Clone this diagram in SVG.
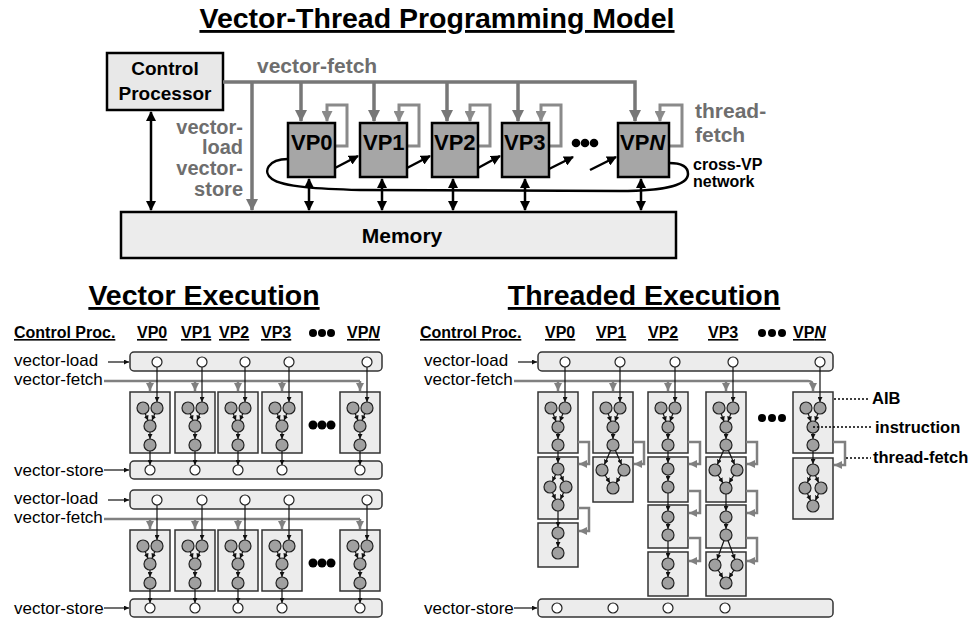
<svg xmlns="http://www.w3.org/2000/svg" xmlns:xlink="http://www.w3.org/1999/xlink" width="971" height="618" viewBox="0 0 971 618">
<style>
text{font-family:"Liberation Sans",Arial,sans-serif}
.title{font-size:28.5px;font-weight:bold;text-anchor:middle;text-decoration:underline}
.big{font-size:19px;font-weight:bold;text-anchor:middle}
.vp{font-size:22px;font-weight:bold}
.gl{font-size:21px;font-weight:bold;fill:#6e6e6e}
.gs{font-size:20px;font-weight:bold;fill:#6e6e6e;text-anchor:end}
.cv{font-size:16px;font-weight:bold}
.hd{font-size:16px;font-weight:bold;text-decoration:underline}
.lb{font-size:17px}
.an{font-size:16.5px;font-weight:bold}
.gf{fill:none;stroke:#777;stroke-width:3.5}
.tf{fill:none;stroke:#8a8a8a;stroke-width:3}
.bk{fill:none;stroke:#000;stroke-width:2.5}
.bar{fill:#ececec;stroke:#333;stroke-width:1.5}
.aib{fill:#ececec;stroke:#333;stroke-width:1.5}
.n{fill:#a0a0a0;stroke:#222;stroke-width:1.2;r:6px}
.w{fill:#fff;stroke:#222;stroke-width:1.2}
.e{stroke:#111;stroke-width:1.2;fill:none}
.sgl{stroke:#808080;stroke-width:2.5;fill:none}
.dt{stroke:#000;stroke-width:1.6;stroke-dasharray:2,2;fill:none}
</style>
<defs>
<marker id="ab" markerWidth="10" markerHeight="10" refX="9" refY="5" orient="auto-start-reverse" markerUnits="userSpaceOnUse"><path d="M0,0 L10,5 L0,10 z" fill="#000"/></marker>
<marker id="ag" markerWidth="12" markerHeight="12" refX="11" refY="6" orient="auto" markerUnits="userSpaceOnUse"><path d="M0,0 L12,6 L0,12 z" fill="#777"/></marker>
<marker id="at" markerWidth="11" markerHeight="11" refX="10" refY="5.5" orient="auto" markerUnits="userSpaceOnUse"><path d="M0,0 L11,5.5 L0,11 z" fill="#8a8a8a"/></marker>
<marker id="sb" markerWidth="5" markerHeight="5" refX="5" refY="2.5" orient="auto" markerUnits="userSpaceOnUse"><path d="M0,0 L5,2.5 L0,5 z" fill="#111"/></marker>
<marker id="sg" markerWidth="8" markerHeight="8" refX="8" refY="4" orient="auto" markerUnits="userSpaceOnUse"><path d="M0,0 L8,4 L0,8 z" fill="#808080"/></marker>
<g id="vcol">
<rect x="-20" y="0" width="40" height="61" class="aib"/>
<line x1="7" y1="-25" x2="7" y2="10" class="e" marker-end="url(#sb)"/>
<line x1="0" y1="-11" x2="0" y2="-1" class="sgl" marker-end="url(#sg)"/>
<line x1="-5" y1="21.1" x2="-2" y2="28.5" class="e" marker-end="url(#sb)"/>
<line x1="5" y1="21.1" x2="2" y2="28.5" class="e" marker-end="url(#sb)"/>
<line x1="0" y1="40" x2="0" y2="47" class="e" marker-end="url(#sb)"/>
<line x1="0" y1="59" x2="0" y2="73" class="e" marker-end="url(#sb)"/>
<circle cx="-7" cy="16" r="6" class="n"/>
<circle cx="7" cy="16" r="6" class="n"/>
<circle cx="0" cy="34" r="6" class="n"/>
<circle cx="0" cy="53" r="6" class="n"/>
<circle cx="7" cy="-30" r="5" class="w"/>
<circle cx="0" cy="78" r="5" class="w"/>
</g>
</defs>

<!-- ===== Top: Programming model ===== -->
<g id="title-top"><text x="437" y="28" class="title">Vector-Thread Programming Model</text></g>

<g id="control-processor">
<rect x="107" y="53" width="116" height="57" fill="#e8e8e8" stroke="#000" stroke-width="2.5"/>
<text x="165" y="75" class="big">Control</text>
<text x="165" y="100" class="big">Processor</text>
</g>

<g id="memory">
<rect x="121" y="212" width="555" height="46" fill="#ececec" stroke="#000" stroke-width="2.5"/>
<text x="402" y="243" class="big" style="font-size:21px">Memory</text>
</g>

<g id="connectors-top">
<path d="M223,82 H635 V121" class="gf" marker-end="url(#ag)"/>
<path d="M252,82 V210" class="gf" marker-end="url(#ag)"/>
<path d="M301,82 V121" class="gf" marker-end="url(#ag)"/>
<path d="M374,82 V121" class="gf" marker-end="url(#ag)"/>
<path d="M447,82 V121" class="gf" marker-end="url(#ag)"/>
<path d="M518,82 V121" class="gf" marker-end="url(#ag)"/>
<path d="M335,146 H347 V105 H327 V121" class="tf" marker-end="url(#at)"/>
<path d="M407,146 H419 V105 H399 V121" class="tf" marker-end="url(#at)"/>
<path d="M478,146 H490 V105 H470 V121" class="tf" marker-end="url(#at)"/>
<path d="M549,146 H561 V105 H541 V121" class="tf" marker-end="url(#at)"/>
<path d="M669,146 H682 V105 H660 V121" class="tf" marker-end="url(#at)"/>
<path d="M288,159 C268,159 262,172 272,179 C283,187 320,189 360,190 L620,191 C660,191 688,186 688,174 C688,166 680,163 669,163" class="bk"/>
<path d="M335,168 L358,156" class="bk" marker-end="url(#ab)"/>
<path d="M407,168 L430,156" class="bk" marker-end="url(#ab)"/>
<path d="M478,168 L500,156" class="bk" marker-end="url(#ab)"/>
<path d="M549,169 L573,157" class="bk" marker-end="url(#ab)"/>
<path d="M590,170 L616,157" class="bk" marker-end="url(#ab)"/>
<path d="M151,112 V210" class="bk" marker-start="url(#ab)" marker-end="url(#ab)"/>
<path d="M309,179 V210" class="bk" marker-start="url(#ab)" marker-end="url(#ab)"/>
<path d="M382,179 V210" class="bk" marker-start="url(#ab)" marker-end="url(#ab)"/>
<path d="M453,179 V210" class="bk" marker-start="url(#ab)" marker-end="url(#ab)"/>
<path d="M525,179 V210" class="bk" marker-start="url(#ab)" marker-end="url(#ab)"/>
<path d="M641,179 V210" class="bk" marker-start="url(#ab)" marker-end="url(#ab)"/>
</g>

<g id="vp0"><rect x="288" y="123" width="47" height="54" fill="#a6a6a6" stroke="#000" stroke-width="2.5"/><text x="291" y="150" class="vp">VP0</text></g>
<g id="vp1"><rect x="360" y="123" width="47" height="54" fill="#a6a6a6" stroke="#000" stroke-width="2.5"/><text x="363" y="150" class="vp">VP1</text></g>
<g id="vp2"><rect x="432" y="123" width="46" height="54" fill="#a6a6a6" stroke="#000" stroke-width="2.5"/><text x="434" y="150" class="vp">VP2</text></g>
<g id="vp3"><rect x="502" y="123" width="47" height="54" fill="#a6a6a6" stroke="#000" stroke-width="2.5"/><text x="504" y="150" class="vp">VP3</text></g>
<g id="vpn"><rect x="618" y="123" width="51" height="54" fill="#a6a6a6" stroke="#000" stroke-width="2.5"/><text x="620" y="150" class="vp">VP<tspan font-style="italic">N</tspan></text></g>
<g id="dots-top"><circle cx="576" cy="143" r="4.3"/><circle cx="585" cy="143" r="4.3"/><circle cx="594" cy="143" r="4.3"/></g>

<g id="labels-top">
<text x="257" y="73" class="gl">vector-fetch</text>
<text x="243" y="134" class="gs">vector-</text>
<text x="243" y="154" class="gs">load</text>
<text x="243" y="175" class="gs">vector-</text>
<text x="243" y="196" class="gs">store</text>
<text x="695" y="118" class="gl">thread-</text>
<text x="695" y="142" class="gl">fetch</text>
<text x="693" y="170" class="cv">cross-VP</text>
<text x="693" y="187" class="cv">network</text>
</g>

<!-- ===== Vector Execution ===== -->
<g id="title-vector"><text x="204" y="305" class="title">Vector Execution</text></g>
<g id="vector-header">
<text x="14" y="338" class="hd">Control Proc.</text>
<text x="137" y="338" class="hd">VP0</text>
<text x="181" y="338" class="hd">VP1</text>
<text x="219" y="338" class="hd">VP2</text>
<text x="261" y="338" class="hd">VP3</text>
<circle cx="313" cy="333" r="4"/><circle cx="322" cy="333" r="4"/><circle cx="331" cy="333" r="4"/>
<text x="347" y="338" class="hd">VP<tspan font-style="italic">N</tspan></text>
</g>

<g id="vector-group1">
<text x="14" y="366" class="lb">vector-load</text>
<text x="14" y="385" class="lb">vector-fetch</text>
<text x="14" y="476" class="lb">vector-store</text>
<line x1="108" y1="362" x2="129" y2="362" class="e" marker-end="url(#sb)"/>
<line x1="104" y1="470" x2="129" y2="470" class="e" marker-end="url(#sb)"/>
<rect x="130" y="352" width="252" height="19" rx="4" class="bar"/>
<rect x="130" y="461" width="252" height="18" rx="4" class="bar"/>
<path d="M104,381 H360" class="sgl"/>
<use xlink:href="#vcol" href="#vcol" x="150" y="392"/>
<use xlink:href="#vcol" href="#vcol" x="195" y="392"/>
<use xlink:href="#vcol" href="#vcol" x="238" y="392"/>
<use xlink:href="#vcol" href="#vcol" x="282" y="392"/>
<use xlink:href="#vcol" href="#vcol" x="360" y="392"/>
<circle cx="313" cy="425" r="4.5"/><circle cx="322" cy="425" r="4.5"/><circle cx="331" cy="425" r="4.5"/>
</g>

<g id="vector-group2">
<text x="14" y="504" class="lb">vector-load</text>
<text x="14" y="523" class="lb">vector-fetch</text>
<text x="14" y="614" class="lb">vector-store</text>
<line x1="108" y1="500" x2="129" y2="500" class="e" marker-end="url(#sb)"/>
<line x1="104" y1="608" x2="129" y2="608" class="e" marker-end="url(#sb)"/>
<rect x="130" y="490" width="252" height="19" rx="4" class="bar"/>
<rect x="130" y="599" width="252" height="18" rx="4" class="bar"/>
<path d="M104,519 H360" class="sgl"/>
<use xlink:href="#vcol" href="#vcol" x="150" y="530"/>
<use xlink:href="#vcol" href="#vcol" x="195" y="530"/>
<use xlink:href="#vcol" href="#vcol" x="238" y="530"/>
<use xlink:href="#vcol" href="#vcol" x="282" y="530"/>
<use xlink:href="#vcol" href="#vcol" x="360" y="530"/>
<circle cx="313" cy="563" r="4.5"/><circle cx="322" cy="563" r="4.5"/><circle cx="331" cy="563" r="4.5"/>
</g>

<!-- ===== Threaded Execution ===== -->
<g id="title-threaded"><text x="644" y="305" class="title">Threaded Execution</text></g>
<g id="threaded-header">
<text x="420" y="338" class="hd">Control Proc.</text>
<text x="545" y="338" class="hd">VP0</text>
<text x="596" y="338" class="hd">VP1</text>
<text x="648" y="338" class="hd">VP2</text>
<text x="708" y="338" class="hd">VP3</text>
<circle cx="762" cy="333" r="4"/><circle cx="772" cy="333" r="4"/><circle cx="782" cy="333" r="4"/>
<text x="793" y="338" class="hd">VP<tspan font-style="italic">N</tspan></text>
</g>

<g id="threaded-bars">
<text x="424" y="366" class="lb">vector-load</text>
<text x="424" y="385" class="lb">vector-fetch</text>
<text x="424" y="614" class="lb">vector-store</text>
<line x1="518" y1="362" x2="537" y2="362" class="e" marker-end="url(#sb)"/>
<line x1="514" y1="608" x2="537" y2="608" class="e" marker-end="url(#sb)"/>
<rect x="538" y="352" width="295" height="19" rx="4" class="bar"/>
<rect x="538" y="599" width="295" height="18" rx="4" class="bar"/>
<circle cx="565" cy="362" r="5" class="w"/><circle cx="620" cy="362" r="5" class="w"/><circle cx="675" cy="362" r="5" class="w"/><circle cx="733" cy="362" r="5" class="w"/><circle cx="820" cy="362" r="5" class="w"/>
<circle cx="557" cy="608" r="5" class="w"/><circle cx="613" cy="608" r="5" class="w"/><circle cx="668" cy="608" r="5" class="w"/><circle cx="725" cy="608" r="5" class="w"/>
</g>

<g id="threaded-fetch">
<path d="M514,381 H808 Q813,381 813,386 V391" class="sgl" marker-end="url(#sg)"/>
<line x1="558" y1="381" x2="558" y2="391" class="sgl" marker-end="url(#sg)"/>
<line x1="613" y1="381" x2="613" y2="391" class="sgl" marker-end="url(#sg)"/>
<line x1="668" y1="381" x2="668" y2="391" class="sgl" marker-end="url(#sg)"/>
<line x1="726" y1="381" x2="726" y2="391" class="sgl" marker-end="url(#sg)"/>
</g>

<g id="t-vp0">
<rect x="538" y="392" width="40" height="61" class="aib"/>
<rect x="538" y="457" width="40" height="62" class="aib"/>
<rect x="538" y="523" width="40" height="44" class="aib"/>
<line x1="565" y1="367" x2="565" y2="402" class="e" marker-end="url(#sb)"/>
<line x1="553" y1="413.1" x2="556" y2="421.5" class="e" marker-end="url(#sb)"/>
<line x1="563" y1="413.1" x2="560" y2="421.5" class="e" marker-end="url(#sb)"/>
<line x1="558" y1="433" x2="558" y2="439" class="e" marker-end="url(#sb)"/>
<line x1="558" y1="451" x2="558" y2="463" class="e" marker-end="url(#sb)"/>
<line x1="555.8" y1="474" x2="552.4" y2="481.5" class="e" marker-end="url(#sb)"/>
<line x1="560.2" y1="474" x2="563.6" y2="481.5" class="e" marker-end="url(#sb)"/>
<line x1="552.2" y1="492" x2="555.6" y2="499.5" class="e" marker-end="url(#sb)"/>
<line x1="563.8" y1="492" x2="560.4" y2="499.5" class="e" marker-end="url(#sb)"/>
<line x1="558" y1="511" x2="558" y2="527" class="e" marker-end="url(#sb)"/>
<line x1="558" y1="539" x2="558" y2="547" class="e" marker-end="url(#sb)"/>
<circle cx="551" cy="408" r="6" class="n"/><circle cx="565" cy="408" r="6" class="n"/><circle cx="558" cy="427" r="6" class="n"/><circle cx="558" cy="445" r="6" class="n"/>
<circle cx="558" cy="469" r="6" class="n"/><circle cx="550" cy="487" r="6" class="n"/><circle cx="566" cy="487" r="6" class="n"/><circle cx="558" cy="505" r="6" class="n"/>
<circle cx="558" cy="533" r="6" class="n"/><circle cx="558" cy="553" r="6" class="n"/>
<path d="M578,442 H589 V464 H579" class="sgl" marker-end="url(#sg)"/>
<path d="M578,508 H589 V531 H579" class="sgl" marker-end="url(#sg)"/>
</g>

<g id="t-vp1">
<rect x="593" y="392" width="40" height="61" class="aib"/>
<rect x="593" y="457" width="40" height="45" class="aib"/>
<line x1="620" y1="367" x2="620" y2="402" class="e" marker-end="url(#sb)"/>
<line x1="608" y1="413.1" x2="611" y2="421.5" class="e" marker-end="url(#sb)"/>
<line x1="618" y1="413.1" x2="615" y2="421.5" class="e" marker-end="url(#sb)"/>
<line x1="613" y1="433" x2="613" y2="439" class="e" marker-end="url(#sb)"/>
<line x1="610.8" y1="450" x2="604.4" y2="464.5" class="e" marker-end="url(#sb)"/>
<line x1="615.2" y1="450" x2="621.6" y2="464.5" class="e" marker-end="url(#sb)"/>
<line x1="604.9" y1="474.7" x2="609.9" y2="482.9" class="e" marker-end="url(#sb)"/>
<line x1="621.1" y1="474.7" x2="616.1" y2="482.9" class="e" marker-end="url(#sb)"/>
<circle cx="606" cy="408" r="6" class="n"/><circle cx="620" cy="408" r="6" class="n"/><circle cx="613" cy="427" r="6" class="n"/><circle cx="613" cy="445" r="6" class="n"/>
<circle cx="602" cy="470" r="6" class="n"/><circle cx="624" cy="470" r="6" class="n"/><circle cx="613" cy="488" r="6" class="n"/>
<path d="M633,442 H644 V464 H634" class="sgl" marker-end="url(#sg)"/>
</g>

<g id="t-vp2">
<rect x="648" y="392" width="40" height="61" class="aib"/>
<rect x="648" y="457" width="40" height="45" class="aib"/>
<rect x="648" y="505" width="40" height="43" class="aib"/>
<rect x="648" y="552" width="40" height="44" class="aib"/>
<line x1="675" y1="367" x2="675" y2="402" class="e" marker-end="url(#sb)"/>
<line x1="663" y1="413.1" x2="666" y2="421.5" class="e" marker-end="url(#sb)"/>
<line x1="673" y1="413.1" x2="670" y2="421.5" class="e" marker-end="url(#sb)"/>
<line x1="668" y1="433" x2="668" y2="439" class="e" marker-end="url(#sb)"/>
<line x1="668" y1="451" x2="668" y2="463" class="e" marker-end="url(#sb)"/>
<line x1="668" y1="475" x2="668" y2="481" class="e" marker-end="url(#sb)"/>
<line x1="668" y1="493" x2="668" y2="511" class="e" marker-end="url(#sb)"/>
<line x1="668" y1="523" x2="668" y2="529" class="e" marker-end="url(#sb)"/>
<line x1="668" y1="541" x2="668" y2="558" class="e" marker-end="url(#sb)"/>
<line x1="668" y1="570" x2="668" y2="577" class="e" marker-end="url(#sb)"/>
<circle cx="661" cy="408" r="6" class="n"/><circle cx="675" cy="408" r="6" class="n"/><circle cx="668" cy="427" r="6" class="n"/><circle cx="668" cy="445" r="6" class="n"/>
<circle cx="668" cy="469" r="6" class="n"/><circle cx="668" cy="487" r="6" class="n"/>
<circle cx="668" cy="517" r="6" class="n"/><circle cx="668" cy="535" r="6" class="n"/>
<circle cx="668" cy="564" r="6" class="n"/><circle cx="668" cy="583" r="6" class="n"/>
<path d="M688,442 H700 V464 H689" class="sgl" marker-end="url(#sg)"/>
<path d="M688,491 H700 V513 H689" class="sgl" marker-end="url(#sg)"/>
<path d="M688,538 H700 V561 H689" class="sgl" marker-end="url(#sg)"/>
</g>

<g id="t-vp3">
<rect x="706" y="392" width="40" height="61" class="aib"/>
<rect x="706" y="457" width="40" height="45" class="aib"/>
<rect x="706" y="505" width="40" height="43" class="aib"/>
<rect x="706" y="552" width="40" height="44" class="aib"/>
<line x1="733" y1="367" x2="733" y2="402" class="e" marker-end="url(#sb)"/>
<line x1="721" y1="413.1" x2="724" y2="421.5" class="e" marker-end="url(#sb)"/>
<line x1="731" y1="413.1" x2="728" y2="421.5" class="e" marker-end="url(#sb)"/>
<line x1="726" y1="433" x2="726" y2="439" class="e" marker-end="url(#sb)"/>
<line x1="723.8" y1="450" x2="717.4" y2="464.5" class="e" marker-end="url(#sb)"/>
<line x1="728.2" y1="450" x2="734.6" y2="464.5" class="e" marker-end="url(#sb)"/>
<line x1="717.9" y1="474.7" x2="722.9" y2="482.9" class="e" marker-end="url(#sb)"/>
<line x1="734.1" y1="474.7" x2="729.1" y2="482.9" class="e" marker-end="url(#sb)"/>
<line x1="726" y1="494" x2="726" y2="511" class="e" marker-end="url(#sb)"/>
<line x1="726" y1="523" x2="726" y2="529" class="e" marker-end="url(#sb)"/>
<line x1="724.1" y1="540.2" x2="717.1" y2="559.4" class="e" marker-end="url(#sb)"/>
<line x1="727.9" y1="540.2" x2="734.9" y2="559.4" class="e" marker-end="url(#sb)"/>
<line x1="717.9" y1="569.7" x2="722.9" y2="577.9" class="e" marker-end="url(#sb)"/>
<line x1="734.1" y1="569.7" x2="729.1" y2="577.9" class="e" marker-end="url(#sb)"/>
<circle cx="719" cy="408" r="6" class="n"/><circle cx="733" cy="408" r="6" class="n"/><circle cx="726" cy="427" r="6" class="n"/><circle cx="726" cy="445" r="6" class="n"/>
<circle cx="715" cy="470" r="6" class="n"/><circle cx="737" cy="470" r="6" class="n"/><circle cx="726" cy="488" r="6" class="n"/>
<circle cx="726" cy="517" r="6" class="n"/><circle cx="726" cy="535" r="6" class="n"/>
<circle cx="715" cy="565" r="6" class="n"/><circle cx="737" cy="565" r="6" class="n"/><circle cx="726" cy="583" r="6" class="n"/>
<path d="M746,442 H757 V464 H747" class="sgl" marker-end="url(#sg)"/>
<path d="M746,491 H757 V513 H747" class="sgl" marker-end="url(#sg)"/>
<path d="M746,538 H757 V561 H747" class="sgl" marker-end="url(#sg)"/>
</g>

<g id="t-dots"><circle cx="762" cy="418" r="4"/><circle cx="772" cy="418" r="4"/><circle cx="782" cy="418" r="4"/></g>

<g id="t-vpn">
<rect x="793" y="392" width="40" height="61" class="aib"/>
<rect x="793" y="458" width="40" height="61" class="aib"/>
<line x1="820" y1="367" x2="820" y2="402" class="e" marker-end="url(#sb)"/>
<line x1="808" y1="413.1" x2="811" y2="421.5" class="e" marker-end="url(#sb)"/>
<line x1="818" y1="413.1" x2="815" y2="421.5" class="e" marker-end="url(#sb)"/>
<line x1="813" y1="433" x2="813" y2="439" class="e" marker-end="url(#sb)"/>
<line x1="813" y1="451" x2="813" y2="464" class="e" marker-end="url(#sb)"/>
<line x1="810.8" y1="475" x2="807.4" y2="482.5" class="e" marker-end="url(#sb)"/>
<line x1="815.2" y1="475" x2="818.6" y2="482.5" class="e" marker-end="url(#sb)"/>
<line x1="807.2" y1="493" x2="810.6" y2="500.5" class="e" marker-end="url(#sb)"/>
<line x1="818.8" y1="493" x2="815.4" y2="500.5" class="e" marker-end="url(#sb)"/>
<circle cx="806" cy="408" r="6" class="n"/><circle cx="820" cy="408" r="6" class="n"/><circle cx="813" cy="427" r="6" class="n"/><circle cx="813" cy="445" r="6" class="n"/>
<circle cx="813" cy="470" r="6" class="n"/><circle cx="805" cy="488" r="6" class="n"/><circle cx="821" cy="488" r="6" class="n"/><circle cx="813" cy="506" r="6" class="n"/>
<path d="M833,442 H845 V465 H834" class="sgl" marker-end="url(#sg)"/>
</g>

<g id="annotations">
<path d="M834,399 H870" class="dt"/>
<path d="M813,427 H873" class="dt"/>
<path d="M846,458 H871" class="dt"/>
<text x="872" y="404" class="an">AIB</text>
<text x="875" y="433" class="an">instruction</text>
<text x="873" y="463" class="an">thread-fetch</text>
</g>
</svg>
